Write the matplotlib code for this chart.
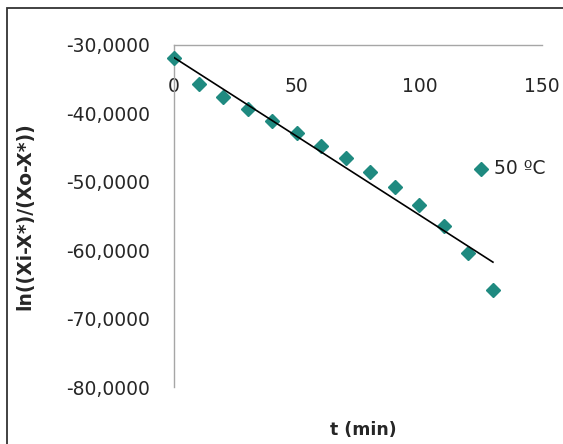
import numpy as np
import matplotlib
matplotlib.use("Agg")
import matplotlib.pyplot as plt
from matplotlib.patches import Rectangle

# data
t_min = [0, 10, 20, 30, 40, 50, 60, 70, 80, 90, 100, 110, 120, 130]
ln_ratio = [-31.95, -35.7, -37.6, -39.4, -41.05, -42.9, -44.7, -46.5,
            -48.5, -50.7, -53.4, -56.5, -60.4, -65.8]
series_label = "50 ºC"
x_ticks = [0, 50, 100, 150]
y_ticks = [-80, -70, -60, -50, -40, -30]

TEAL = "#1f8a80"
AXIS_GRAY = "#a6a6a6"
TEXT = "#262626"

fig = plt.figure(figsize=(5.63, 4.44), dpi=100)
fig.patch.set_facecolor("white")

# chart-area border (runs off the right/bottom edge like the source)
fig.patches.append(Rectangle((7 / 563, -0.05), 1.1, 0.982 + 0.05,
                             transform=fig.transFigure, fill=False,
                             edgecolor="#333333", linewidth=1.3))

ax = fig.add_axes([174 / 563, 1 - 387 / 444, 368 / 563, 342 / 444])
ax.set_facecolor("none")

ax.plot(t_min, ln_ratio, linestyle="none", marker="D", markersize=7.5,
        color=TEAL, clip_on=False, zorder=3)

# linear trendline over the data range
slope, intercept = np.polyfit(t_min, ln_ratio, 1)
tt = np.array([t_min[0], t_min[-1]])
ax.plot(tt, slope * tt + intercept, color="black", linewidth=1.2, zorder=4)

ax.set_xlim(0, 150)
ax.set_ylim(-80, -30)

for side in ("top", "right"):
    ax.spines[side].set_visible(False)
ax.spines["bottom"].set_position(("data", -30))
ax.spines["left"].set_position(("data", 0))
for side in ("bottom", "left"):
    ax.spines[side].set_color(AXIS_GRAY)
    ax.spines[side].set_linewidth(1.0)

ax.set_xticks(x_ticks)
ax.set_yticks(y_ticks)
ax.set_yticklabels([f"{v:.4f}".replace(".", ",") for v in y_ticks])
ax.tick_params(axis="x", length=0, pad=23, labelsize=13.5, labelcolor=TEXT)
ax.tick_params(axis="y", length=0, pad=17, labelsize=13.5, labelcolor=TEXT)

fig.text(363 / 563, 1 - 430 / 444, "t (min)", ha="center", va="center",
         fontsize=12.5, fontweight="bold", color=TEXT)
fig.text(25 / 563, 1 - 216 / 444, "ln((Xi-X*)/(Xo-X*))", ha="center",
         va="center", rotation=90, fontsize=13.5, fontweight="bold", color=TEXT)

# legend drawn as marker + text
fig.lines.append(plt.Line2D([481 / 563], [1 - 169 / 444], marker="D",
                            markersize=7.5, color=TEAL, linestyle="none",
                            transform=fig.transFigure))
fig.text(494 / 563, 1 - 169 / 444, series_label, ha="left", va="center",
         fontsize=13.5, color=TEXT)

fig.savefig("out.png", dpi=100)
